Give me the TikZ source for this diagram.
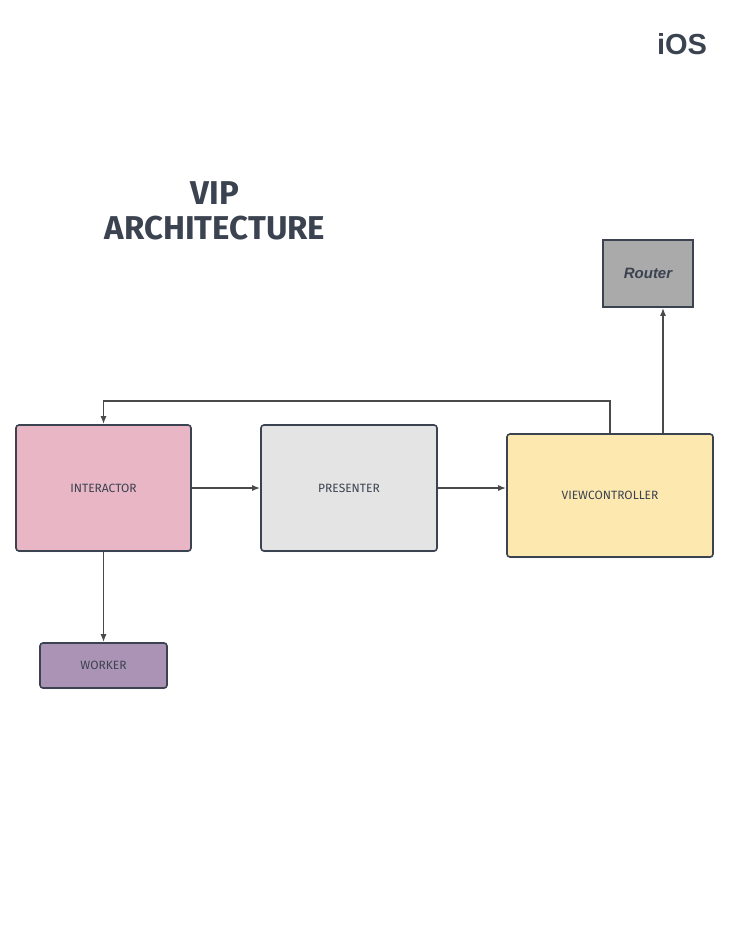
\documentclass[tikz,border=0pt]{standalone}
\usepackage{fontspec}
\setmainfont{Fira Sans}
\newfontfamily\routerfont{Liberation Sans}
\usetikzlibrary{arrows.meta, positioning, shadows}
\definecolor{inkgray}{HTML}{3B4250}
\definecolor{linegray}{HTML}{4A4A4A}
\definecolor{interpink}{HTML}{E9B6C6}
\definecolor{presgray}{HTML}{E4E4E4}
\definecolor{vcyellow}{HTML}{FDE9B0}
\definecolor{workerpurple}{HTML}{AB93B5}
\definecolor{routergray}{HTML}{AAAAAA}

\begin{document}
\begin{tikzpicture}[
  x=1pt, y=-1pt,
  box/.style={draw=inkgray, line width=1.6pt, rounded corners=3pt, rectangle,
              text=inkgray, font=\fontsize{12}{14}\selectfont, inner sep=0pt,
              drop shadow={shadow xshift=0.5pt, shadow yshift=-1pt, opacity=0.25}},
  arr/.style={-{Latex[length=8pt, width=6pt]}, draw=linegray, line width=1.5pt}
]
  \useasboundingbox (0,0) rectangle (754,926);
  % title
  \node[text=inkgray, font=\fontsize{33}{35}\selectfont\bfseries, align=center] (title) at (215,211) {VIP\\ARCHITECTURE};
  \node[text=inkgray, font=\routerfont\bfseries\fontsize{29}{32}\selectfont] (ios) at (682,44) {iOS};
  % boxes
  \node[box, fill=interpink, minimum width=175pt, minimum height=126pt] (interactor) at (103.5,488) {INTERACTOR};
  \node[box, fill=presgray, minimum width=176pt, minimum height=126pt] (presenter) at (349,488) {PRESENTER};
  \node[box, fill=vcyellow, minimum width=206pt, minimum height=123pt] (vc) at (610,495.5) {VIEWCONTROLLER};
  \node[box, fill=workerpurple, minimum width=127pt, minimum height=45pt] (worker) at (103.5,665.5) {WORKER};
  \node[box, fill=routergray, rounded corners=0pt, minimum width=90pt, minimum height=67pt,
        font=\routerfont\bfseries\itshape\fontsize{15}{17}\selectfont] (router) at (648,273.5) {Router};
  % connectors
  \draw[arr] (interactor.east |- 0,488) -- (presenter.west |- 0,488);
  \draw[arr] (presenter.east |- 0,488) -- (vc.west |- 0,488);
  \draw[arr] (interactor.south) -- (worker.north);
  \draw[arr] (vc.north -| 610,0) |- (103.5,401) -- (interactor.north);
  \draw[arr] (vc.north -| 663,0) -- (router.south -| 663,0);
\end{tikzpicture}
\end{document}
